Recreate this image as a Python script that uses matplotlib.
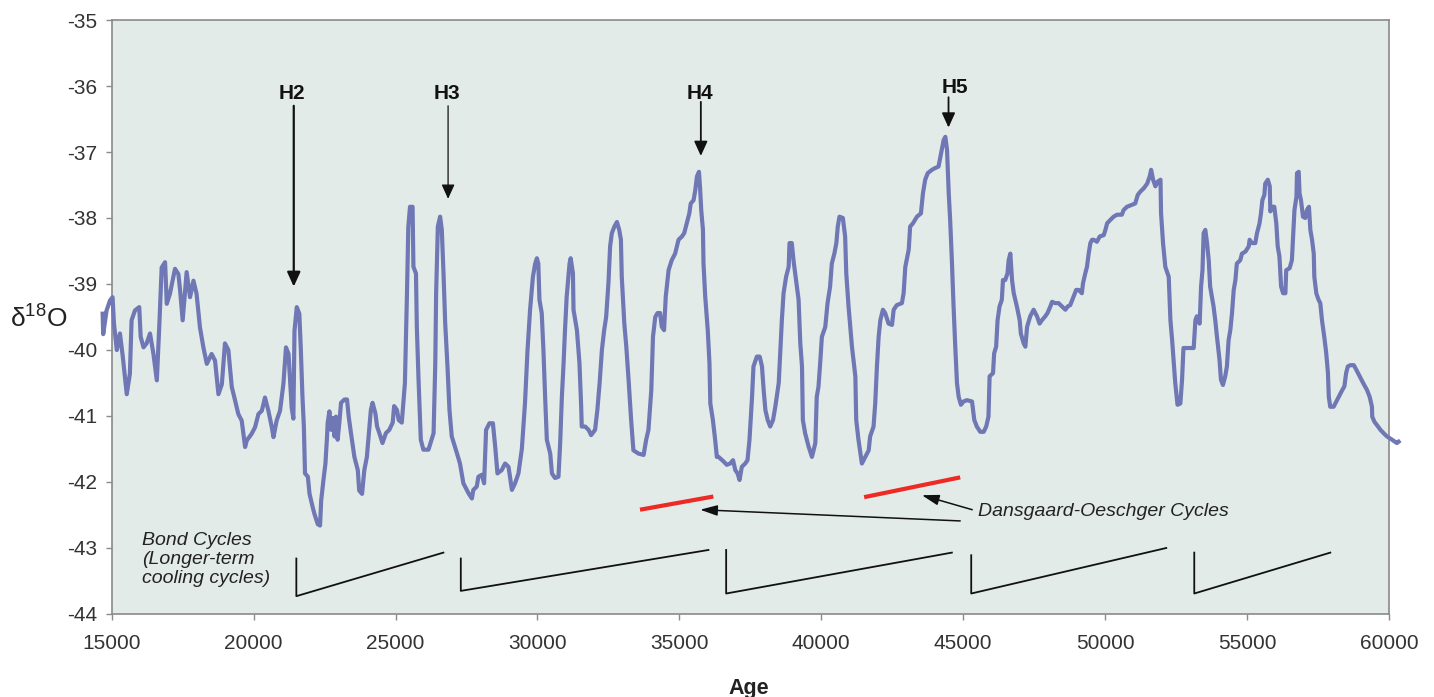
import matplotlib
matplotlib.use('Agg')
import matplotlib.pyplot as plt

plt.rcParams['font.family'] = ['Liberation Sans', 'DejaVu Sans']
plt.rcParams['axes.unicode_minus'] = False
plt.rcParams['mathtext.fontset'] = 'custom'
plt.rcParams['mathtext.rm'] = 'Liberation Sans'

# ice core record
age = [14680, 14700, 14820, 14940, 15030, 15080, 15180, 15290, 15390, 15530,
       15640, 15700, 15820, 15970, 16020, 16120, 16230, 16350, 16470, 16590,
       16680, 16760, 16880, 16940, 17050, 17230, 17350, 17410, 17500, 17640,
       17760, 17880, 17990, 18110, 18230, 18350, 18520, 18640, 18760, 18880,
       18990, 19110, 19230, 19350, 19460, 19580, 19700, 19760, 19930, 20050,
       20170, 20290, 20400, 20520, 20640, 20700, 20810, 20930, 21050, 21140,
       21230, 21340, 21400, 21440, 21520, 21610, 21660, 21720, 21770, 21810,
       21910, 21970, 22080, 22140, 22260, 22340, 22380, 22460, 22530, 22580,
       22610, 22670, 22730, 22790, 22850, 22900, 22960, 23020, 23080, 23200,
       23290, 23350, 23430, 23550, 23670, 23720, 23820, 23900, 23990, 24050,
       24130, 24190, 24290, 24350, 24430, 24540, 24660, 24780, 24900, 24950,
       25050, 25110, 25220, 25330, 25400, 25450, 25510, 25600, 25630, 25720,
       25750, 25810, 25890, 25980, 26160, 26340, 26400, 26430, 26490, 26570,
       26630, 26690, 26750, 26830, 26900, 26980, 27160, 27270, 27390, 27570,
       27690, 27740, 27860, 27920, 28040, 28120, 28190, 28310, 28430, 28510,
       28590, 28740, 28860, 28980, 29100, 29210, 29330, 29450, 29560, 29650,
       29740, 29840, 29920, 29980, 30030, 30070, 30150, 30210, 30270, 30330,
       30450, 30510, 30620, 30740, 30800, 30860, 30920, 30970, 31030, 31130,
       31170, 31250, 31270, 31390, 31480, 31540, 31560, 31680, 31800, 31890,
       32030, 32110, 32190, 32270, 32350, 32420, 32500, 32560, 32620, 32710,
       32800, 32880, 32940, 32970, 33060, 33130, 33210, 33300, 33380, 33560,
       33740, 33830, 33910, 34010, 34070, 34150, 34230, 34320, 34380, 34460,
       34520, 34620, 34730, 34850, 34970, 35090, 35170, 35260, 35350, 35400,
       35500, 35560, 35620, 35690, 35730, 35770, 35830, 35850, 35910, 36000,
       36060, 36090, 36180, 36260, 36320, 36380, 36560, 36670, 36790, 36890,
       36970, 37050, 37120, 37200, 37320, 37400, 37470, 37560, 37610, 37730,
       37830, 37910, 37970, 38030, 38110, 38200, 38300, 38380, 38500, 38610,
       38670, 38760, 38850, 38880, 38960, 39020, 39080, 39200, 39260, 39320,
       39350, 39430, 39550, 39670, 39790, 39840, 39900, 39960, 40020, 40140,
       40220, 40310, 40370, 40460, 40530, 40580, 40640, 40760, 40840, 40880,
       40960, 41080, 41200, 41230, 41310, 41430, 41550, 41670, 41720, 41840,
       41900, 41960, 42020, 42080, 42170, 42250, 42370, 42490, 42550, 42660,
       42840, 42900, 42960, 43080, 43130, 43230, 43370, 43510, 43580, 43660,
       43750, 43900, 43980, 44130, 44220, 44310, 44370, 44430, 44490, 44540,
       44600, 44660, 44720, 44780, 44840, 44920, 45010, 45130, 45310, 45390,
       45480, 45600, 45720, 45810, 45890, 45930, 46050, 46090, 46160, 46210,
       46280, 46360, 46400, 46480, 46560, 46600, 46660, 46720, 46780, 46890,
       46990, 47030, 47130, 47190, 47250, 47360, 47480, 47600, 47690, 47770,
       47890, 47970, 48070, 48130, 48240, 48360, 48480, 48600, 48680, 48770,
       48890, 48980, 49070, 49180, 49220, 49300, 49360, 49420, 49480, 49540,
       49600, 49710, 49810, 49950, 50010, 50070, 50180, 50300, 50420, 50590,
       50650, 50770, 50950, 51060, 51150, 51240, 51360, 51480, 51570, 51620,
       51690, 51770, 51850, 51950, 51970, 52040, 52120, 52240, 52300, 52360,
       52470, 52550, 52650, 52710, 52760, 52940, 53120, 53180, 53230, 53330,
       53380, 53430, 53470, 53530, 53590, 53650, 53700, 53820, 53880, 53940,
       54030, 54080, 54150, 54230, 54290, 54350, 54410, 54470, 54530, 54590,
       54640, 54760, 54820, 54940, 55060, 55090, 55170, 55290, 55350, 55440,
       55490, 55540, 55610, 55640, 55730, 55800, 55820, 55880, 55960, 56030,
       56080, 56140, 56200, 56270, 56350, 56380, 56500, 56580, 56670, 56740,
       56760, 56820, 56850, 56900, 56970, 57050, 57110, 57180, 57230, 57290,
       57350, 57370, 57440, 57520, 57580, 57640, 57720, 57790, 57850, 57880,
       57930, 58050, 58170, 58230, 58350, 58430, 58490, 58550, 58640, 58760,
       58850, 58970, 59090, 59230, 59320, 59400, 59410, 59490, 59580, 59700,
       59810, 59930, 60110, 60280, 60340]

d18o = [-39.45, -39.76, -39.40, -39.25, -39.20, -39.60, -40.00, -39.75, -40.10, -40.67,
        -40.36, -39.55, -39.40, -39.35, -39.80, -39.96, -39.90, -39.75, -40.06, -40.46,
        -39.60, -38.75, -38.67, -39.30, -39.15, -38.77, -38.85, -39.10, -39.55, -38.82,
        -39.20, -38.95, -39.15, -39.66, -39.96, -40.21, -40.06, -40.16, -40.67, -40.52,
        -39.90, -40.00, -40.56, -40.77, -40.97, -41.07, -41.47, -41.37, -41.27, -41.17,
        -40.97, -40.92, -40.72, -40.92, -41.17, -41.32, -41.07, -40.92, -40.51, -39.96,
        -40.06, -40.87, -41.04, -39.71, -39.35, -39.45, -39.96, -40.70, -41.16, -41.87,
        -41.92, -42.18, -42.38, -42.48, -42.64, -42.66, -42.28, -41.97, -41.72, -41.36,
        -41.10, -40.93, -41.21, -41.03, -41.31, -41.01, -41.36, -41.10, -40.80, -40.75,
        -40.75, -41.01, -41.26, -41.62, -41.82, -42.13, -42.18, -41.82, -41.62, -41.31,
        -40.91, -40.80, -40.96, -41.16, -41.26, -41.41, -41.26, -41.21, -41.10, -40.85,
        -40.91, -41.06, -41.10, -40.50, -39.19, -38.13, -37.83, -37.83, -38.74, -38.84,
        -39.65, -40.45, -41.36, -41.51, -41.51, -41.26, -40.20, -39.14, -38.13, -37.98,
        -38.18, -38.84, -39.60, -40.25, -40.91, -41.31, -41.56, -41.72, -42.02, -42.17,
        -42.25, -42.12, -42.07, -41.92, -41.89, -42.02, -41.21, -41.11, -41.11, -41.46,
        -41.87, -41.82, -41.72, -41.77, -42.12, -42.02, -41.87, -41.50, -40.81, -40.00,
        -39.39, -38.89, -38.69, -38.61, -38.69, -39.24, -39.44, -40.00, -40.71, -41.36,
        -41.57, -41.87, -41.94, -41.92, -41.41, -40.71, -40.20, -39.70, -39.19, -38.69,
        -38.61, -38.84, -39.39, -39.70, -40.20, -40.86, -41.16, -41.16, -41.21, -41.29,
        -41.21, -40.91, -40.50, -40.00, -39.70, -39.50, -38.99, -38.43, -38.23, -38.13,
        -38.06, -38.18, -38.33, -38.89, -39.60, -39.95, -40.45, -41.06, -41.52, -41.57,
        -41.59, -41.36, -41.21, -40.61, -39.80, -39.50, -39.44, -39.44, -39.65, -39.70,
        -39.19, -38.79, -38.64, -38.54, -38.33, -38.28, -38.23, -38.08, -37.93, -37.78,
        -37.73, -37.58, -37.37, -37.30, -37.55, -37.88, -38.18, -38.69, -39.19, -39.70,
        -40.20, -40.81, -41.06, -41.36, -41.62, -41.62, -41.69, -41.74, -41.72, -41.67,
        -41.82, -41.87, -41.97, -41.77, -41.72, -41.67, -41.36, -40.71, -40.25, -40.10,
        -40.10, -40.25, -40.61, -40.91, -41.06, -41.16, -41.06, -40.86, -40.50, -39.55,
        -39.14, -38.89, -38.74, -38.38, -38.38, -38.64, -38.84, -39.24, -39.90, -40.25,
        -41.06, -41.26, -41.46, -41.62, -41.41, -40.71, -40.56, -40.20, -39.80, -39.65,
        -39.29, -39.04, -38.69, -38.54, -38.38, -38.13, -37.98, -38.00, -38.28, -38.84,
        -39.34, -39.95, -40.40, -41.06, -41.36, -41.72, -41.62, -41.52, -41.31, -41.16,
        -40.81, -40.25, -39.80, -39.55, -39.39, -39.44, -39.60, -39.62, -39.39, -39.32,
        -39.29, -39.14, -38.74, -38.48, -38.13, -38.08, -37.98, -37.93, -37.63, -37.42,
        -37.32, -37.27, -37.25, -37.22, -37.02, -36.82, -36.77, -36.97, -37.63, -38.03,
        -38.64, -39.34, -39.95, -40.50, -40.71, -40.83, -40.78, -40.76, -40.78, -41.06,
        -41.16, -41.24, -41.24, -41.16, -41.01, -40.40, -40.35, -40.05, -39.95, -39.55,
        -39.34, -39.24, -38.94, -38.94, -38.84, -38.64, -38.54, -38.94, -39.14, -39.34,
        -39.55, -39.75, -39.90, -39.95, -39.65, -39.49, -39.39, -39.49, -39.60, -39.55,
        -39.49, -39.44, -39.34, -39.27, -39.29, -39.29, -39.34, -39.39, -39.34, -39.32,
        -39.19, -39.09, -39.09, -39.14, -38.99, -38.84, -38.74, -38.54, -38.38, -38.33,
        -38.33, -38.36, -38.28, -38.26, -38.18, -38.08, -38.03, -37.98, -37.95, -37.95,
        -37.88, -37.83, -37.80, -37.78, -37.65, -37.60, -37.55, -37.48, -37.37, -37.27,
        -37.42, -37.52, -37.45, -37.42, -37.93, -38.38, -38.74, -38.89, -39.55, -39.85,
        -40.50, -40.83, -40.81, -40.45, -39.97, -39.97, -39.97, -39.55, -39.49, -39.60,
        -39.04, -38.79, -38.23, -38.18, -38.38, -38.64, -39.04, -39.34, -39.55, -39.80,
        -40.15, -40.45, -40.53, -40.40, -40.25, -39.85, -39.70, -39.44, -39.09, -38.94,
        -38.69, -38.64, -38.54, -38.51, -38.43, -38.33, -38.38, -38.38, -38.23, -38.08,
        -37.93, -37.73, -37.65, -37.48, -37.42, -37.52, -37.90, -37.83, -37.83, -38.08,
        -38.43, -38.58, -39.04, -39.14, -39.14, -38.79, -38.76, -38.64, -37.88, -37.68,
        -37.32, -37.30, -37.63, -37.73, -37.98, -38.00, -37.88, -37.83, -38.18, -38.33,
        -38.54, -38.89, -39.14, -39.24, -39.29, -39.55, -39.80, -40.05, -40.35, -40.71,
        -40.86, -40.86, -40.76, -40.71, -40.61, -40.55, -40.35, -40.25, -40.23, -40.23,
        -40.30, -40.40, -40.50, -40.61, -40.71, -40.86, -41.01, -41.09, -41.14, -41.21,
        -41.26, -41.31, -41.36, -41.41, -41.39]

# Heinrich events: label, label x, arrow x, label y, arrow top, arrow tip
h_labels = ['H2', 'H3', 'H4', 'H5']
h_text_x = [21365, 26805, 35707, 44718]
h_arrow_x = [21414, 26851, 35756, 44482]
h_text_y = [-36.11, -36.11, -36.11, -36.03]
h_arrow_top = [-36.30, -36.30, -36.24, -36.17]
h_arrow_tip = [-39.04, -37.71, -37.06, -36.63]

# Dansgaard-Oeschger red segments (x0, y0, x1, y1)
do_segments = [(33613, -42.42, 36197, -42.22), (41509, -42.23, 44894, -41.93)]
# arrows from the D-O label: (start x, start y, tip x, tip y)
do_arrows = [(45317, -42.42, 43544, -42.20), (44894, -42.59, 35732, -42.42)]

# Bond cycles sawteeth: (x start, top, bottom, x end, y end)
bond_cycles = [(21505, -43.16, -43.73, 26686, -43.07),
               (27299, -43.16, -43.65, 36024, -43.03),
               (36648, -43.03, -43.69, 44600, -43.07),
               (45282, -43.11, -43.69, 52153, -43.00),
               (53140, -43.07, -43.69, 57933, -43.07)]

assert len(age) == len(d18o)

fig = plt.figure(figsize=(14.34, 6.97), dpi=100)
ax = fig.add_axes([0.0779, 0.1191, 0.8907, 0.8522])
ax.set_facecolor('#e3ebe9')

ax.plot(age, d18o, color='#6f78b4', lw=3, clip_on=False, zorder=3,
        solid_joinstyle='round')

ax.set_xlim(15000, 60000)
ax.set_ylim(-44, -35)
ax.set_xticks(range(15000, 60001, 5000))
ax.set_yticks(range(-44, -34))
for sp in ax.spines.values():
    sp.set_color('#8a8a8a')
    sp.set_linewidth(1.2)
ax.tick_params(direction='out', length=4.5, width=1, color='#8a8a8a',
               labelsize=15, labelcolor='#333333')
ax.tick_params(axis='x', pad=10)
ax.tick_params(axis='y', pad=6)

# Heinrich arrows
h_widths = [1.6, 0.9, 1.3, 1.3]
for lab, tx, ax_x, ty, top, tip, lw in zip(h_labels, h_text_x, h_arrow_x, h_text_y,
                                           h_arrow_top, h_arrow_tip, h_widths):
    ax.text(tx, ty, lab, ha='center', va='center', fontsize=15,
            fontweight='bold', color='#111111')
    ax.annotate('', xy=(ax_x, tip), xytext=(ax_x, top),
                arrowprops=dict(arrowstyle='-|>,head_length=0.55,head_width=0.25',
                                mutation_scale=16, color='#111111', lw=lw,
                                shrinkA=0, shrinkB=0))

# D-O cycles
for x0, y0, x1, y1 in do_segments:
    ax.plot([x0, x1], [y0, y1], color='#ee2a24', lw=3, solid_capstyle='butt')
for x0, y0, x1, y1 in do_arrows:
    ax.annotate('', xy=(x1, y1), xytext=(x0, y0),
                arrowprops=dict(arrowstyle='-|>,head_length=0.65,head_width=0.2',
                                mutation_scale=16, color='#111111', lw=1.1,
                                shrinkA=0, shrinkB=0))
ax.text(45529, -42.45, 'Dansgaard-Oeschger Cycles', style='italic',
        fontsize=14, va='center', ha='left', color='#222222')

# Bond cycles
for x0, top, bot, x1, y1 in bond_cycles:
    ax.plot([x0, x0, x1], [top, bot, y1], color='#111111', lw=1.3)
ax.text(16057, -43.17, 'Bond Cycles\n(Longer-term\ncooling cycles)',
        style='italic', fontsize=14, va='center', ha='left', linespacing=1.15,
        color='#222222')

fig.text(10 / 1434, 1 - 318 / 697, r'$\mathrm{\delta}^{18}\mathrm{O}$',
         fontsize=19, ha='left', va='center', color='#222222')
fig.text(0.522, 0.004, 'Age', fontsize=15.5, fontweight='bold', ha='center',
         va='baseline', color='#222222')

fig.savefig('out.png', dpi=100)
